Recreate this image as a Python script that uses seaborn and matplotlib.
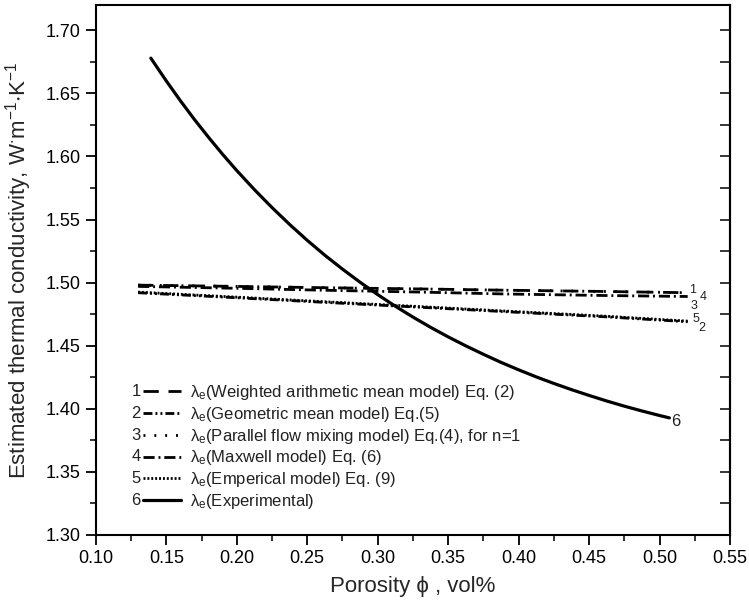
import numpy as np
import pandas as pd
import matplotlib
matplotlib.use("Agg")
import matplotlib.pyplot as plt
from matplotlib.lines import Line2D
from matplotlib.ticker import MultipleLocator, FormatStrFormatter
import seaborn as sns

# ---- data ----
model_x = [0.13, 0.20, 0.26, 0.33, 0.39, 0.46, 0.52]
weighted_arith = [1.498, 1.497, 1.496, 1.495, 1.494, 1.493, 1.492]
geometric = [1.492, 1.488, 1.4845, 1.4805, 1.477, 1.473, 1.469]
parallel_flow = [1.498, 1.497, 1.496, 1.495, 1.494, 1.493, 1.492]
maxwell = [1.497, 1.4955, 1.494, 1.4925, 1.491, 1.4898, 1.489]
emperical = [1.4925, 1.4885, 1.485, 1.481, 1.4775, 1.4735, 1.4695]

exp_x = [0.139, 0.15, 0.16, 0.17, 0.18, 0.19, 0.20, 0.2125, 0.225, 0.2375,
         0.25, 0.2625, 0.275, 0.2875, 0.30, 0.3125, 0.325, 0.3375, 0.35,
         0.3625, 0.375, 0.3875, 0.40, 0.4125, 0.425, 0.4375, 0.45, 0.4625,
         0.475, 0.4875, 0.50, 0.507]
exp_y = [1.6779, 1.6598, 1.6441, 1.6292, 1.6151, 1.6016, 1.5888, 1.5737,
         1.5595, 1.5461, 1.5335, 1.5217, 1.5107, 1.5003, 1.4905, 1.4813,
         1.4727, 1.4646, 1.4570, 1.4499, 1.4432, 1.4368, 1.4309, 1.4253,
         1.4201, 1.4152, 1.4106, 1.4062, 1.4021, 1.3983, 1.3947, 1.3928]

series_names = ["1", "2", "3", "4", "5"]
series_vals = [weighted_arith, geometric, parallel_flow, maxwell, emperical]
legend_labels = [
    r"$\mathregular{λ_e}$(Weighted arithmetic mean model) Eq. (2)",
    r"$\mathregular{λ_e}$(Geometric mean model) Eq.(5)",
    r"$\mathregular{λ_e}$(Parallel flow mixing model) Eq.(4), for n=1",
    r"$\mathregular{λ_e}$(Maxwell model) Eq. (6)",
    r"$\mathregular{λ_e}$(Emperical model) Eq. (9)",
    r"$\mathregular{λ_e}$(Experimental)",
]

# ---- styling ----
sns.set_theme(style="ticks")
plt.rcParams["font.family"] = ["Liberation Sans", "DejaVu Sans"]
plt.rcParams["mathtext.fontset"] = "custom"
plt.rcParams["mathtext.rm"] = "Liberation Sans"
plt.rcParams["mathtext.it"] = "Liberation Sans:italic"

dash_styles = {
    "1": (5.5, 3.5),
    "2": (3.2, 1.1, 0.7, 1.1, 0.7, 1.1),
    "3": (0.7, 3.2),
    "4": (4.0, 1.4, 0.7, 1.4),
    "5": (0.7, 0.7),
}

rows = []
for name, vals in zip(series_names, series_vals):
    for x, v in zip(model_x, vals):
        rows.append({"porosity": x, "lam": v, "model": name})
df = pd.DataFrame(rows)
df_exp = pd.DataFrame({"porosity": exp_x, "lam": exp_y})

fig = plt.figure(figsize=(7.49, 6.11), dpi=100)
ax = fig.add_axes([0.128, 0.1244, 0.8466, 0.8674])

sns.lineplot(data=df, x="porosity", y="lam", style="model", dashes=dash_styles,
             color="black", linewidth=2.0, legend=False, ax=ax, sort=True)
sns.lineplot(data=df_exp, x="porosity", y="lam", color="black", linewidth=2.3,
             legend=False, ax=ax)

ax.set_xlim(0.10, 0.55)
ax.set_ylim(1.30, 1.72)
ax.xaxis.set_major_locator(MultipleLocator(0.05))
ax.xaxis.set_minor_locator(MultipleLocator(0.025))
ax.yaxis.set_major_locator(MultipleLocator(0.05))
ax.yaxis.set_minor_locator(MultipleLocator(0.025))
ax.xaxis.set_major_formatter(FormatStrFormatter("%.2f"))
ax.yaxis.set_major_formatter(FormatStrFormatter("%.2f"))

for s in ax.spines.values():
    s.set_linewidth(1.5)
    s.set_color("black")
ax.tick_params(axis="both", which="major", direction="out", length=7, width=1.3,
               labelsize=13, colors="black", pad=4)
ax.tick_params(axis="both", which="minor", direction="out", length=4, width=1.3)

# right side ticks pointing inward
sec = ax.secondary_yaxis("right")
sec.yaxis.set_major_locator(MultipleLocator(0.05))
sec.yaxis.set_minor_locator(MultipleLocator(0.025))
sec.tick_params(axis="y", which="both", direction="in", length=7, width=1.3,
                labelright=False)
sec.spines["right"].set_linewidth(1.5)

ax.set_xlabel(r"Porosity ϕ , vol%", fontsize=16, labelpad=6)
ax.set_ylabel(r"Estimated thermal conductivity, W$\mathregular{^{\cdot}m^{-1}{\cdot}K^{-1}}$",
              fontsize=16, labelpad=8)

# end labels
end_labels = [("1", 0.5210, 1.4940, 9), ("4", 0.5282, 1.4888, 9),
              ("3", 0.5222, 1.4812, 9), ("5", 0.5232, 1.4712, 9),
              ("2", 0.5275, 1.4640, 9), ("6", 0.5118, 1.3897, 12)]
for t, x, y, fs in end_labels:
    ax.text(x, y, t, fontsize=fs, ha="left" if t != "6" else "center",
            va="center", color="#222222")

# legend
handles = [Line2D([], [], color="black", linewidth=2.0, dashes=dash_styles[n])
           for n in series_names]
handles.append(Line2D([], [], color="black", linewidth=2.3))
leg = ax.legend(handles, legend_labels, loc="lower left",
                bbox_to_anchor=(0.074, 0.045), frameon=False, fontsize=12,
                handlelength=2.3, handletextpad=0.55, labelspacing=0.17,
                borderpad=0, borderaxespad=0)
for t in leg.get_texts():
    t.set_color("#222222")

fig.canvas.draw()
inv = ax.transAxes.inverted()
for i, (txt, h) in enumerate(zip(leg.get_texts(), leg.legend_handles)):
    tb = txt.get_window_extent()
    hb = h.get_window_extent()
    xa, _ = inv.transform((hb.x0 - 2, 0))
    _, ya = inv.transform((0, (tb.y0 + tb.y1) / 2 + 1))
    ax.text(xa, ya, str(i + 1), transform=ax.transAxes, ha="right", va="center",
            fontsize=12, color="#222222")

fig.savefig("out.png", dpi=100)
